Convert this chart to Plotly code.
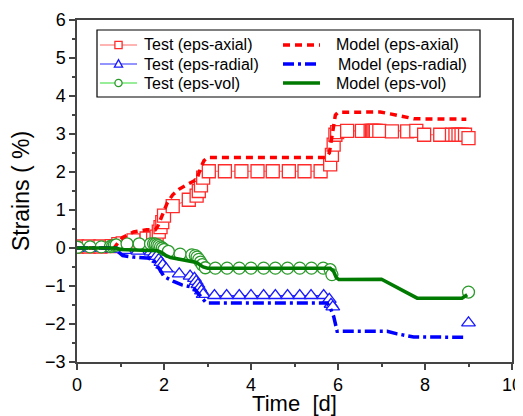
import plotly.graph_objects as go

# ---- data (time in days, strain in %) ----
t_test_axial = [0, 0.27, 0.54, 0.8, 0.95, 1.05, 1.3, 1.6, 1.75, 1.83, 1.88, 1.92, 1.96, 2.0,
                2.2, 2.57, 2.75, 2.8, 2.85, 2.9, 3.03, 3.4, 3.78, 4.15, 4.5, 4.87, 5.23, 5.6,
                5.82, 5.86, 5.9, 5.94, 5.98, 6.21, 6.55, 6.75, 6.78, 6.81, 6.84, 6.87, 6.95,
                7.24, 7.59, 7.8, 7.98, 8.35, 8.62, 8.7, 8.77, 8.84, 8.92, 9.0]
y_test_axial = [0.04, 0.04, 0.04, 0.05, 0.1, 0.12, 0.2, 0.25, 0.25, 0.3, 0.43, 0.55, 0.68, 0.85,
                1.1, 1.27, 1.38, 1.5, 1.65, 1.85, 2.02, 2.02, 2.02, 2.02, 2.02, 2.02, 2.02, 2.02,
                2.2, 2.45, 2.72, 2.98, 3.05, 3.08, 3.08, 3.08, 3.08, 3.08, 3.08, 3.08, 3.08,
                3.07, 3.07, 3.08, 2.98, 2.98, 2.98, 2.98, 2.98, 2.98, 2.98, 2.89]

t_test_radial = [0, 0.27, 0.54, 0.8, 0.95, 1.1, 1.4, 1.7, 1.78, 1.83, 1.88, 1.93, 1.97, 2.05,
                 2.35, 2.6, 2.7, 2.74, 2.78, 2.82, 2.86, 2.9, 3.16, 3.44, 3.73, 4.0, 4.29, 4.56,
                 4.84, 5.12, 5.38, 5.67, 5.8, 5.84, 5.88, None, 9.0]
y_test_radial = [0, 0, 0, -0.02, -0.03, -0.06, -0.08, -0.1, -0.15, -0.22, -0.3, -0.38, -0.45, -0.55,
                 -0.68, -0.74, -0.8, -0.88, -0.96, -1.05, -1.13, -1.22, -1.25, -1.25, -1.25, -1.25,
                 -1.25, -1.25, -1.25, -1.25, -1.25, -1.25, -1.35, -1.48, -1.55, None, -1.97]

t_test_vol = [0.02, 0.3, 0.56, 0.77, 0.82, 0.86, 0.9, 1.15, 1.43, 1.69, 1.76, 1.8, 1.84, 1.88,
              1.92, 1.96, 2.0, 2.1, 2.37, 2.64, 2.72, 2.76, 2.8, 2.84, 2.88, 2.95, 3.18, 3.45,
              3.73, 4.0, 4.29, 4.56, 4.84, 5.12, 5.39, 5.66, 5.82, 5.86, None, 9.0]
y_test_vol = [0.02, 0.03, 0.03, 0.04, 0.05, 0.07, 0.08, 0.11, 0.11, 0.11, 0.11, 0.1, 0.08, 0.06,
              0.03, 0.0, -0.04, -0.09, -0.16, -0.18, -0.2, -0.24, -0.3, -0.37, -0.44, -0.52, -0.53,
              -0.53, -0.53, -0.53, -0.53, -0.53, -0.53, -0.53, -0.53, -0.53, -0.57, -0.7, None, -1.16]

t_model_axial = [0, 0.85, 0.95, 1.05, 1.3, 1.6, 1.8, 1.86, 1.92, 2.0, 2.08, 2.2, 2.35, 2.55, 2.75,
                 2.84, 2.92, 3.0, 5.72, 5.8, 5.86, 5.94, 6.0, 6.97, 7.2, 7.5, 7.75, 8.95]
y_model_axial = [0, 0, 0.15, 0.28, 0.42, 0.48, 0.48, 0.58, 0.75, 0.95, 1.2, 1.4, 1.55, 1.68, 1.8,
                 2.1, 2.3, 2.38, 2.38, 2.5, 2.9, 3.5, 3.57, 3.58, 3.53, 3.46, 3.4, 3.39]

t_model_radial = [0, 0.9, 0.97, 1.05, 1.3, 1.6, 1.75, 1.84, 1.92, 2.0, 2.1, 2.22, 2.41, 2.6, 2.72,
                  2.8, 2.87, 2.95, 3.02, 5.75, 5.83, 5.9, 5.98, 7.13, 7.36, 7.74, 8.93]
y_model_radial = [0, 0, -0.12, -0.2, -0.24, -0.26, -0.3, -0.44, -0.6, -0.75, -0.82, -0.88, -0.97,
                  -1.02, -1.1, -1.2, -1.32, -1.42, -1.45, -1.45, -1.6, -1.8, -2.19, -2.19, -2.26,
                  -2.34, -2.35]

t_model_vol = [0, 0.9, 1.0, 1.5, 1.75, 1.85, 1.95, 2.05, 2.15, 2.3, 2.5, 2.65, 2.75, 2.82, 2.9, 3.0,
               5.82, 5.9, 5.96, 6.02, 7.0, 7.82, 8.85, 8.97]
y_model_vol = [0, 0, -0.04, -0.05, -0.05, -0.07, -0.12, -0.2, -0.25, -0.28, -0.32, -0.35, -0.38,
               -0.44, -0.5, -0.53, -0.53, -0.62, -0.78, -0.83, -0.82, -1.32, -1.32, -1.23]

test_names = ["Test (eps-axial)", "Test (eps-radial)", "Test (eps-vol)"]
model_names = ["Model (eps-axial)", "Model (eps-radial)", "Model (eps-vol)"]

FONT = "Liberation Sans, Arial, sans-serif"
DASH_A = "7px,5px"
DASH_R = "11px,4px,3px,4px"

# styles
test_styles = [
    dict(lc="#ff6a6a", mc="#ff2a2a", sym="square", ms=13),
    dict(lc="#2a2aff", mc="#1a1aff", sym="triangle-up", ms=12),
    dict(lc="#33dd33", mc="#2a9a2a", sym="circle", ms=12),
]
model_styles = [
    dict(c="#ff0000", dash=DASH_A),
    dict(c="#0000ff", dash=DASH_R),
    dict(c="#007a00", dash="solid"),
]

fig = go.Figure()

tests = [(t_test_axial, y_test_axial), (t_test_radial, y_test_radial), (t_test_vol, y_test_vol)]
for (tx, ty), st, nm in zip(tests, test_styles, test_names):
    fig.add_trace(go.Scatter(
        x=tx, y=ty, mode="lines+markers", name=nm, showlegend=False,
        line=dict(color=st["lc"], width=1.2),
        marker=dict(symbol=st["sym"], size=st["ms"], color="white",
                    line=dict(color=st["mc"], width=1.3)),
        connectgaps=False))

models = [(t_model_axial, y_model_axial), (t_model_radial, y_model_radial),
          (t_model_vol, y_model_vol)]
for (tx, ty), st, nm in zip(models, model_styles, model_names):
    fig.add_trace(go.Scatter(
        x=tx, y=ty, mode="lines", name=nm, showlegend=False,
        line=dict(color=st["c"], width=3.5, dash=st["dash"])))

axis_common = dict(
    showgrid=False, zeroline=False, showline=True, linecolor="#444", linewidth=1.5,
    mirror=True, ticks="outside", ticklen=6, tickwidth=1.5, tickcolor="#444",
    tickfont=dict(family=FONT, size=18, color="black"), automargin=False,
)

fig.update_xaxes(range=[0, 10], dtick=2, tick0=0,
                 minor=dict(ticks="outside", ticklen=3, dtick=1, tickcolor="#444", tickwidth=1.5),
                 title=dict(text="Time\u00a0\u00a0[d]", font=dict(family=FONT, size=22, color="black"),
                            standoff=2),
                 **axis_common)
fig.update_yaxes(range=[-3, 6], dtick=1, tick0=0,
                 minor=dict(ticks="outside", ticklen=3, dtick=0.5, tickcolor="#444", tickwidth=1.5),
                 title=dict(text="Strains ( %)", font=dict(family=FONT, size=23, color="black"),
                            standoff=12),
                 **axis_common)

# ---- hand-built legend (paper coordinates of the plot area) ----
PW, PH = 435.0, 342.0          # plot area size in px


def px(x):
    return x / PW


def py(y):
    return y / PH


shapes = []
annotations = []
box_l, box_r, box_t, box_b = 20, 403, 332, 265       # px from plot-area left / bottom
shapes.append(dict(type="rect", xref="paper", yref="paper",
                   x0=px(box_l), x1=px(box_r), y0=py(box_b), y1=py(box_t),
                   line=dict(color="black", width=1.2), fillcolor="white", layer="above"))
rows = [317, 298, 279]
c1_l, c1_r, c1_text = 23, 60, 65
c2_l, c2_r, c2_text = 206, 243, 257
for i, yr in enumerate(rows):
    st = test_styles[i]
    shapes.append(dict(type="line", xref="paper", yref="paper",
                       x0=px(c1_l), x1=px(c1_r), y0=py(yr), y1=py(yr),
                       line=dict(color=st["lc"], width=1.2), layer="above"))
    cx = (c1_l + c1_r) / 2
    r = 3.6
    if st["sym"] == "square":
        shapes.append(dict(type="rect", xref="paper", yref="paper",
                           x0=px(cx - r), x1=px(cx + r), y0=py(yr - r), y1=py(yr + r),
                           line=dict(color=st["mc"], width=1.3), fillcolor="white", layer="above"))
    elif st["sym"] == "circle":
        shapes.append(dict(type="circle", xref="paper", yref="paper",
                           x0=px(cx - r), x1=px(cx + r), y0=py(yr - r), y1=py(yr + r),
                           line=dict(color=st["mc"], width=1.3), fillcolor="white", layer="above"))
    else:
        path = "M{},{} L{},{} L{},{} Z".format(px(cx - r - 0.5), py(yr - r + 0.5),
                                              px(cx + r + 0.5), py(yr - r + 0.5),
                                              px(cx), py(yr + r + 0.8))
        shapes.append(dict(type="path", xref="paper", yref="paper", path=path,
                           line=dict(color=st["mc"], width=1.3), fillcolor="white", layer="above"))
    annotations.append(dict(xref="paper", yref="paper", x=px(c1_text), y=py(yr),
                            xanchor="left", yanchor="middle", showarrow=False,
                            text=test_names[i], font=dict(family=FONT, size=16, color="black")))
    ms = model_styles[i]
    shapes.append(dict(type="line", xref="paper", yref="paper",
                       x0=px(c2_l), x1=px(c2_r), y0=py(yr), y1=py(yr),
                       line=dict(color=ms["c"], width=3.5, dash=ms["dash"]), layer="above"))
    annotations.append(dict(xref="paper", yref="paper", x=px(c2_text + (2 if i == 1 else 0)),
                            y=py(yr), xanchor="left", yanchor="middle", showarrow=False,
                            text=model_names[i], font=dict(family=FONT, size=16, color="black")))

fig.update_layout(
    width=515, height=408,
    margin=dict(l=69, r=11, t=12, b=54),
    plot_bgcolor="white", paper_bgcolor="white",
    font=dict(family=FONT, color="black"),
    showlegend=False,
    shapes=shapes,
    annotations=annotations,
)

fig.write_html("out.html")
